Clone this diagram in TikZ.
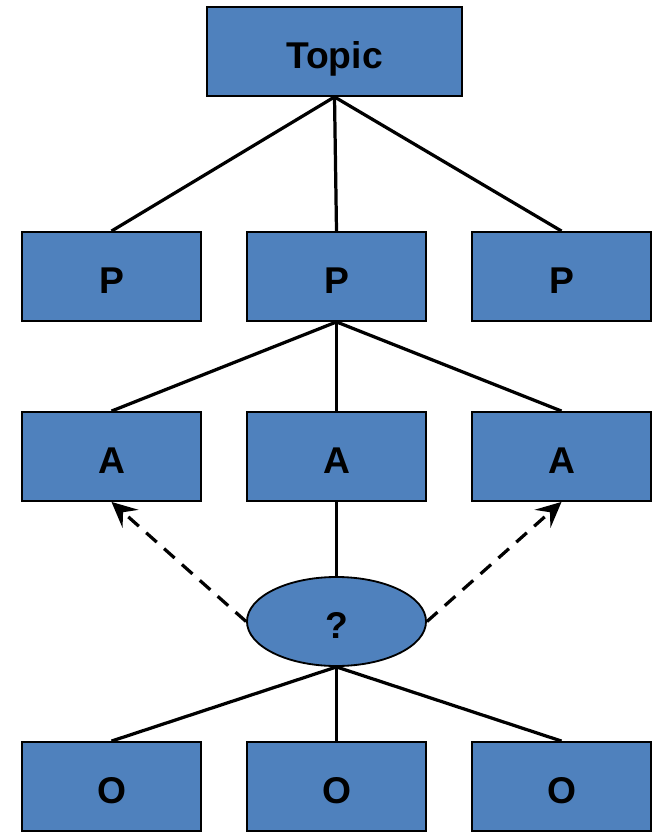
\documentclass[tikz,border=0pt]{standalone}
\usepackage{fontspec}
\setmainfont{Liberation Sans}
\usepackage[HTML]{xcolor}
\usetikzlibrary{positioning, arrows.meta, shapes.geometric}

\definecolor{boxblue}{HTML}{4F81BD}

\tikzset{
  blk/.style={draw=black, line width=1.3pt, fill=boxblue, minimum width=4.475cm,
    minimum height=2.225cm, inner sep=0pt, text height=24pt, text depth=0pt,
    font=\fontsize{26.5}{30}\selectfont\bfseries},
  link/.style={line width=2.3pt},
  guess/.style={line width=2.3pt, dashed, dash pattern=on 10pt off 7pt, -{Stealth[length=18pt, width=17pt, inset=7pt]}}
}

\begin{document}
\begin{tikzpicture}[x=0.025cm, y=-0.025cm]
\useasboundingbox (0,0) rectangle (657,832);

% --- top ---
\node[blk, minimum width=6.375cm] (topic) at (334.5,51.5) {Topic};

% --- P row ---
\node[blk] (p1) at (111.5,276.5) {P};
\node[blk] (p2) at (336.5,276.5) {P};
\node[blk] (p3) at (561.5,276.5) {P};

% --- A row ---
\node[blk] (a1) at (111.5,456.5) {A};
\node[blk] (a2) at (336.5,456.5) {A};
\node[blk] (a3) at (561.5,456.5) {A};

% --- unknown ---
\node[blk, ellipse] (q) at (336.5,621.5) {?};

% --- O row ---
\node[blk] (o1) at (111.5,786.5) {O};
\node[blk] (o2) at (336.5,786.5) {O};
\node[blk] (o3) at (561.5,786.5) {O};

\draw[link] (topic.south) -- (p1.north);
\draw[link] (topic.south) -- (p2.north);
\draw[link] (topic.south) -- (p3.north);

\draw[link] (p2.south) -- (a1.north);
\draw[link] (p2.south) -- (a2.north);
\draw[link] (p2.south) -- (a3.north);

\draw[link] (a2.south) -- (q.north);
\draw[guess] (q.west) -- (a1.south); % inferred links
\draw[guess] (q.east) -- (a3.south);

\draw[link] (q.south) -- (o1.north);
\draw[link] (q.south) -- (o2.north);
\draw[link] (q.south) -- (o3.north);

\end{tikzpicture}
\end{document}
